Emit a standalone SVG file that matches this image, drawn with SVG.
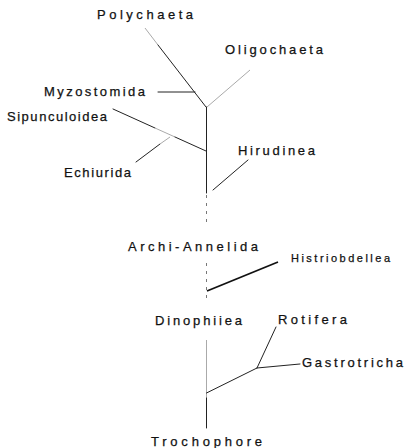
<svg xmlns="http://www.w3.org/2000/svg" width="405" height="448" viewBox="0 0 405 448">
<style>
text{font-family:"Liberation Sans","DejaVu Sans",sans-serif;font-size:13px;fill:#111;stroke:#111;stroke-width:0.25}
.s{font-size:11px}
.l{stroke:#222;stroke-width:1;fill:none;stroke-linecap:round}
.f{stroke:#aaa;stroke-width:1;fill:none}
.d{stroke:#777;stroke-width:1;fill:none;stroke-dasharray:3 5}
.b{stroke:#111;stroke-width:1.8;fill:none}
</style>
<rect width="405" height="448" fill="#fff"/>
<g id="connectors">
<line class="f" x1="145" y1="28" x2="158" y2="45"/>
<line class="l" x1="158" y1="45" x2="206" y2="107"/>
<line class="l" x1="158" y1="92" x2="195" y2="92"/>
<line class="f" x1="250" y1="70" x2="207" y2="107"/>
<line class="l" x1="206.5" y1="107" x2="206.5" y2="193"/>
<line class="d" x1="206.5" y1="195" x2="206.5" y2="225"/>
<line class="l" x1="113" y1="109" x2="155" y2="128"/>
<line class="f" x1="155" y1="128" x2="175" y2="137"/>
<line class="l" x1="175" y1="137" x2="206" y2="151"/>
<line class="l" x1="136" y1="162" x2="160" y2="144"/>
<line class="f" x1="160" y1="144" x2="170" y2="137"/>
<line class="l" x1="248" y1="160" x2="213" y2="190"/>
<line class="d" x1="206.5" y1="263" x2="206.5" y2="300"/>
<line class="b" x1="278" y1="262" x2="207" y2="291"/>
<line class="f" x1="206.5" y1="340" x2="206.5" y2="398"/>
<line class="l" x1="206.5" y1="398" x2="206.5" y2="428"/>
<line class="l" x1="206.5" y1="393" x2="257" y2="368"/>
<line class="l" x1="257" y1="368" x2="276" y2="327"/>
<line class="l" x1="257" y1="368" x2="300" y2="364"/>
</g>
<g id="polychaeta"><text x="97" y="19" textLength="96" lengthAdjust="spacing">Polychaeta</text></g>
<g id="oligochaeta"><text x="225" y="54" textLength="98" lengthAdjust="spacing">Oligochaeta</text></g>
<g id="myzostomida"><text x="44" y="96" textLength="101" lengthAdjust="spacing">Myzostomida</text></g>
<g id="sipunculoidea"><text x="7" y="121" textLength="100" lengthAdjust="spacing">Sipunculoidea</text></g>
<g id="echiurida"><text x="64" y="177" textLength="67" lengthAdjust="spacing">Echiurida</text></g>
<g id="hirudinea"><text x="238" y="155" textLength="77" lengthAdjust="spacing">Hirudinea</text></g>
<g id="archi-annelida"><text x="128" y="251" textLength="130" lengthAdjust="spacing">Archi-Annelida</text></g>
<g id="histriobdellea"><text class="s" x="291" y="262" textLength="99" lengthAdjust="spacing">Histriobdellea</text></g>
<g id="dinophilea"><text x="155" y="325" textLength="87" lengthAdjust="spacing">Dinophiiea</text></g>
<g id="rotifera"><text x="278" y="324" textLength="69" lengthAdjust="spacing">Rotifera</text></g>
<g id="gastrotricha"><text x="302" y="367" textLength="101" lengthAdjust="spacing">Gastrotricha</text></g>
<g id="trochophore"><text x="151" y="446" textLength="111" lengthAdjust="spacing">Trochophore</text></g>
</svg>
